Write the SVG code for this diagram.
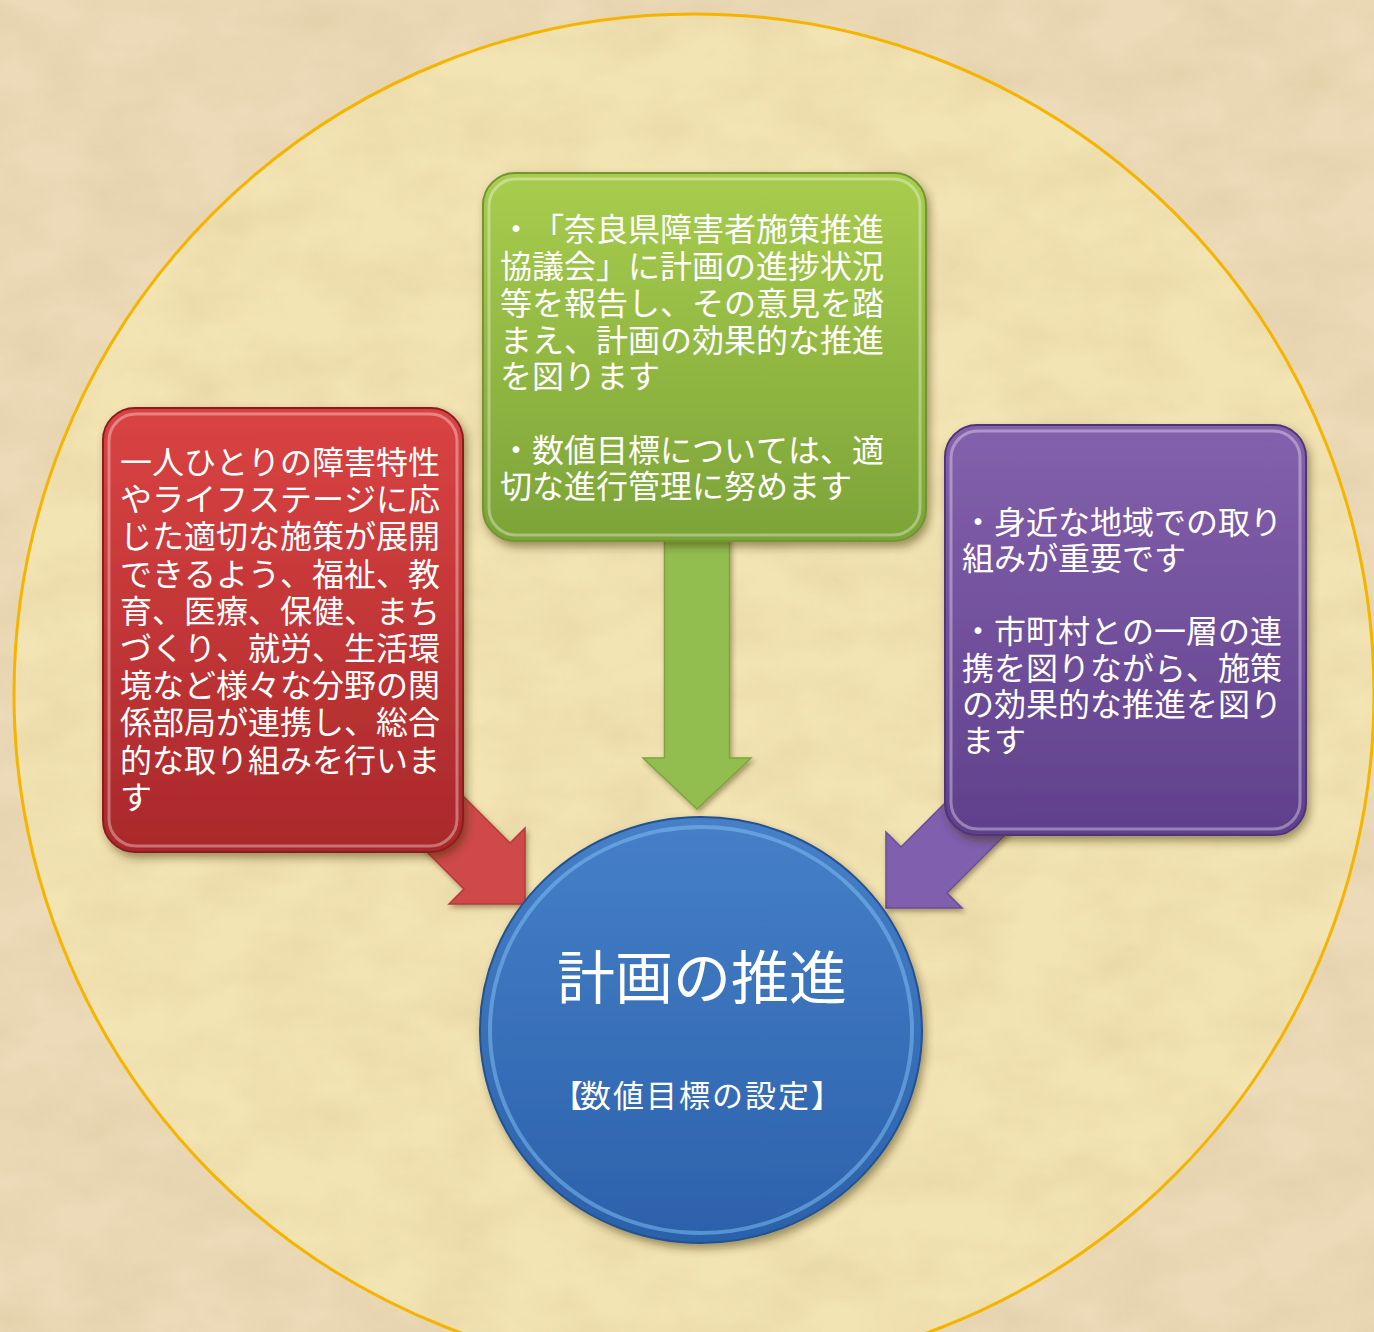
<svg xmlns="http://www.w3.org/2000/svg" width="1374" height="1332" viewBox="0 0 1374 1332">
  <defs>
    <style>
      .t { font-family: "Noto Sans CJK JP", "Noto Sans CJK SC", sans-serif; fill: #ffffff; font-size: 32px; font-kerning: none; text-spacing-trim: space-all; font-feature-settings: "kern" 0, "palt" 0, "halt" 0; }
      .title { font-size: 58px; }
      .sub { font-size: 31px; }
      .hl { fill: none; stroke: #ffffff; stroke-opacity: 0.35; stroke-width: 3; }
    </style>
    <filter id="paper" x="0" y="0" width="100%" height="100%">
      <feTurbulence type="fractalNoise" baseFrequency="0.012 0.02" numOctaves="4" seed="7" result="n"/>
      <feColorMatrix in="n" type="matrix" values="0 0 0 0 0.55  0 0 0 0 0.42  0 0 0 0 0.2  0 0 0 -1.1 0.75" />
    </filter>
    <filter id="shadow" x="-10%" y="-10%" width="125%" height="125%">
      <feDropShadow dx="3" dy="5" stdDeviation="4" flood-color="#3a2a10" flood-opacity="0.45"/>
    </filter>
    <filter id="ashadow" x="-10%" y="-10%" width="125%" height="125%">
      <feDropShadow dx="2" dy="3" stdDeviation="2.5" flood-color="#3a2a10" flood-opacity="0.4"/>
    </filter>
    <linearGradient id="gGreen" x1="0" y1="0" x2="0" y2="1">
      <stop offset="0" stop-color="#a8cd4e"/>
      <stop offset="1" stop-color="#7ca338"/>
    </linearGradient>
    <linearGradient id="gRed" x1="0" y1="0" x2="0" y2="1">
      <stop offset="0" stop-color="#da4343"/>
      <stop offset="1" stop-color="#a9282b"/>
    </linearGradient>
    <linearGradient id="gPurple" x1="0" y1="0" x2="0" y2="1">
      <stop offset="0" stop-color="#8461ac"/>
      <stop offset="1" stop-color="#5f408c"/>
    </linearGradient>
    <linearGradient id="gBlue" x1="0" y1="0" x2="0" y2="1">
      <stop offset="0" stop-color="#4680c8"/>
      <stop offset="1" stop-color="#2b61aa"/>
    </linearGradient>
  </defs>

  <!-- background -->
  <rect x="0" y="0" width="1374" height="1332" fill="#ecdab8"/>
  <circle cx="694" cy="694" r="680" fill="#f3e4b3"/>
  <rect x="0" y="0" width="1374" height="1332" filter="url(#paper)" opacity="0.3"/>
  <circle cx="694" cy="694" r="680" fill="none" stroke="#f4b400" stroke-width="3"/>

  <!-- connectors -->
  <g id="connectors">
    <polygon id="arrow-green" filter="url(#ashadow)" fill="#92be50" stroke="#7ea43f" stroke-width="1.5"
      points="664.5,530 729.5,530 729.5,758 751,758 697,809 643,758 664.5,758"/>
    <polygon id="arrow-red" filter="url(#ashadow)" fill="#d04a4a" stroke="#b53a3a" stroke-width="1.5"
      points="418,751 510,843 525,828 525,904 449,904 464,889 372,797"/>
    <polygon id="arrow-purple" filter="url(#ashadow)" fill="#7f5fae" stroke="#6a4d97" stroke-width="1.5"
      points="993,755 901,847 886,832 886,908 962,908 947,893 1039,801"/>
  </g>

  <!-- green node -->
  <g id="node-green">
    <rect x="483" y="173" width="443" height="368" rx="32" fill="url(#gGreen)" stroke="#6f9530" stroke-width="2" filter="url(#shadow)"/>
    <rect x="489" y="179" width="431" height="356" rx="27" class="hl"/>
    <text class="t">
      <tspan x="500" y="241">・</tspan><tspan x="532" y="241">「</tspan><tspan x="564" y="241">奈良県障害者施策推進</tspan>
      <tspan x="500" y="278">協議会」に計画の進捗状況</tspan>
      <tspan x="500" y="315">等を報告し、その意見を踏</tspan>
      <tspan x="500" y="352">まえ、計画の効果的な推進</tspan>
      <tspan x="500" y="388">を図ります</tspan>
      <tspan x="500" y="462">・数値目標については、適</tspan>
      <tspan x="500" y="498">切な進行管理に努めます</tspan>
    </text>
  </g>

  <!-- red node -->
  <g id="node-red">
    <rect x="103" y="408" width="360" height="444" rx="32" fill="url(#gRed)" stroke="#8c1e1e" stroke-width="2" filter="url(#shadow)"/>
    <rect x="109" y="414" width="348" height="432" rx="27" class="hl"/>
    <text class="t">
      <tspan x="120" y="474">一人ひとりの障害特性</tspan>
      <tspan x="120" y="511">やライフステージに応</tspan>
      <tspan x="120" y="548">じた適切な施策が展開</tspan>
      <tspan x="120" y="586">できるよう、福祉、教</tspan>
      <tspan x="120" y="623">育、医療、保健、まち</tspan>
      <tspan x="120" y="660">づくり、就労、生活環</tspan>
      <tspan x="120" y="697">境など様々な分野の関</tspan>
      <tspan x="120" y="734">係部局が連携し、総合</tspan>
      <tspan x="120" y="772">的な取り組みを行いま</tspan>
      <tspan x="120" y="809">す</tspan>
    </text>
  </g>

  <!-- purple node -->
  <g id="node-purple">
    <rect x="945" y="425" width="361" height="410" rx="32" fill="url(#gPurple)" stroke="#4f3478" stroke-width="2" filter="url(#shadow)"/>
    <rect x="951" y="431" width="349" height="398" rx="27" class="hl"/>
    <text class="t">
      <tspan x="962" y="534">・身近な地域での取り</tspan>
      <tspan x="962" y="570">組みが重要です</tspan>
      <tspan x="962" y="643">・市町村との一層の連</tspan>
      <tspan x="962" y="680">携を図りながら、施策</tspan>
      <tspan x="962" y="716">の効果的な推進を図り</tspan>
      <tspan x="962" y="752">ます</tspan>
    </text>
  </g>

  <!-- blue center node -->
  <g id="node-center">
    <ellipse cx="701" cy="1030" rx="221" ry="213" fill="url(#gBlue)" stroke="#24528f" stroke-width="2" filter="url(#shadow)"/>
    <ellipse cx="701" cy="1030" rx="211" ry="203" fill="none" stroke="#7dbbf0" stroke-opacity="0.55" stroke-width="4"/>
    <text class="t title" x="702" y="999" text-anchor="middle">計画の推進</text>
    <text class="t sub" y="1107"><tspan x="552">【</tspan><tspan x="580" letter-spacing="2">数値目標の設定</tspan><tspan x="811">】</tspan></text>
  </g>
</svg>
